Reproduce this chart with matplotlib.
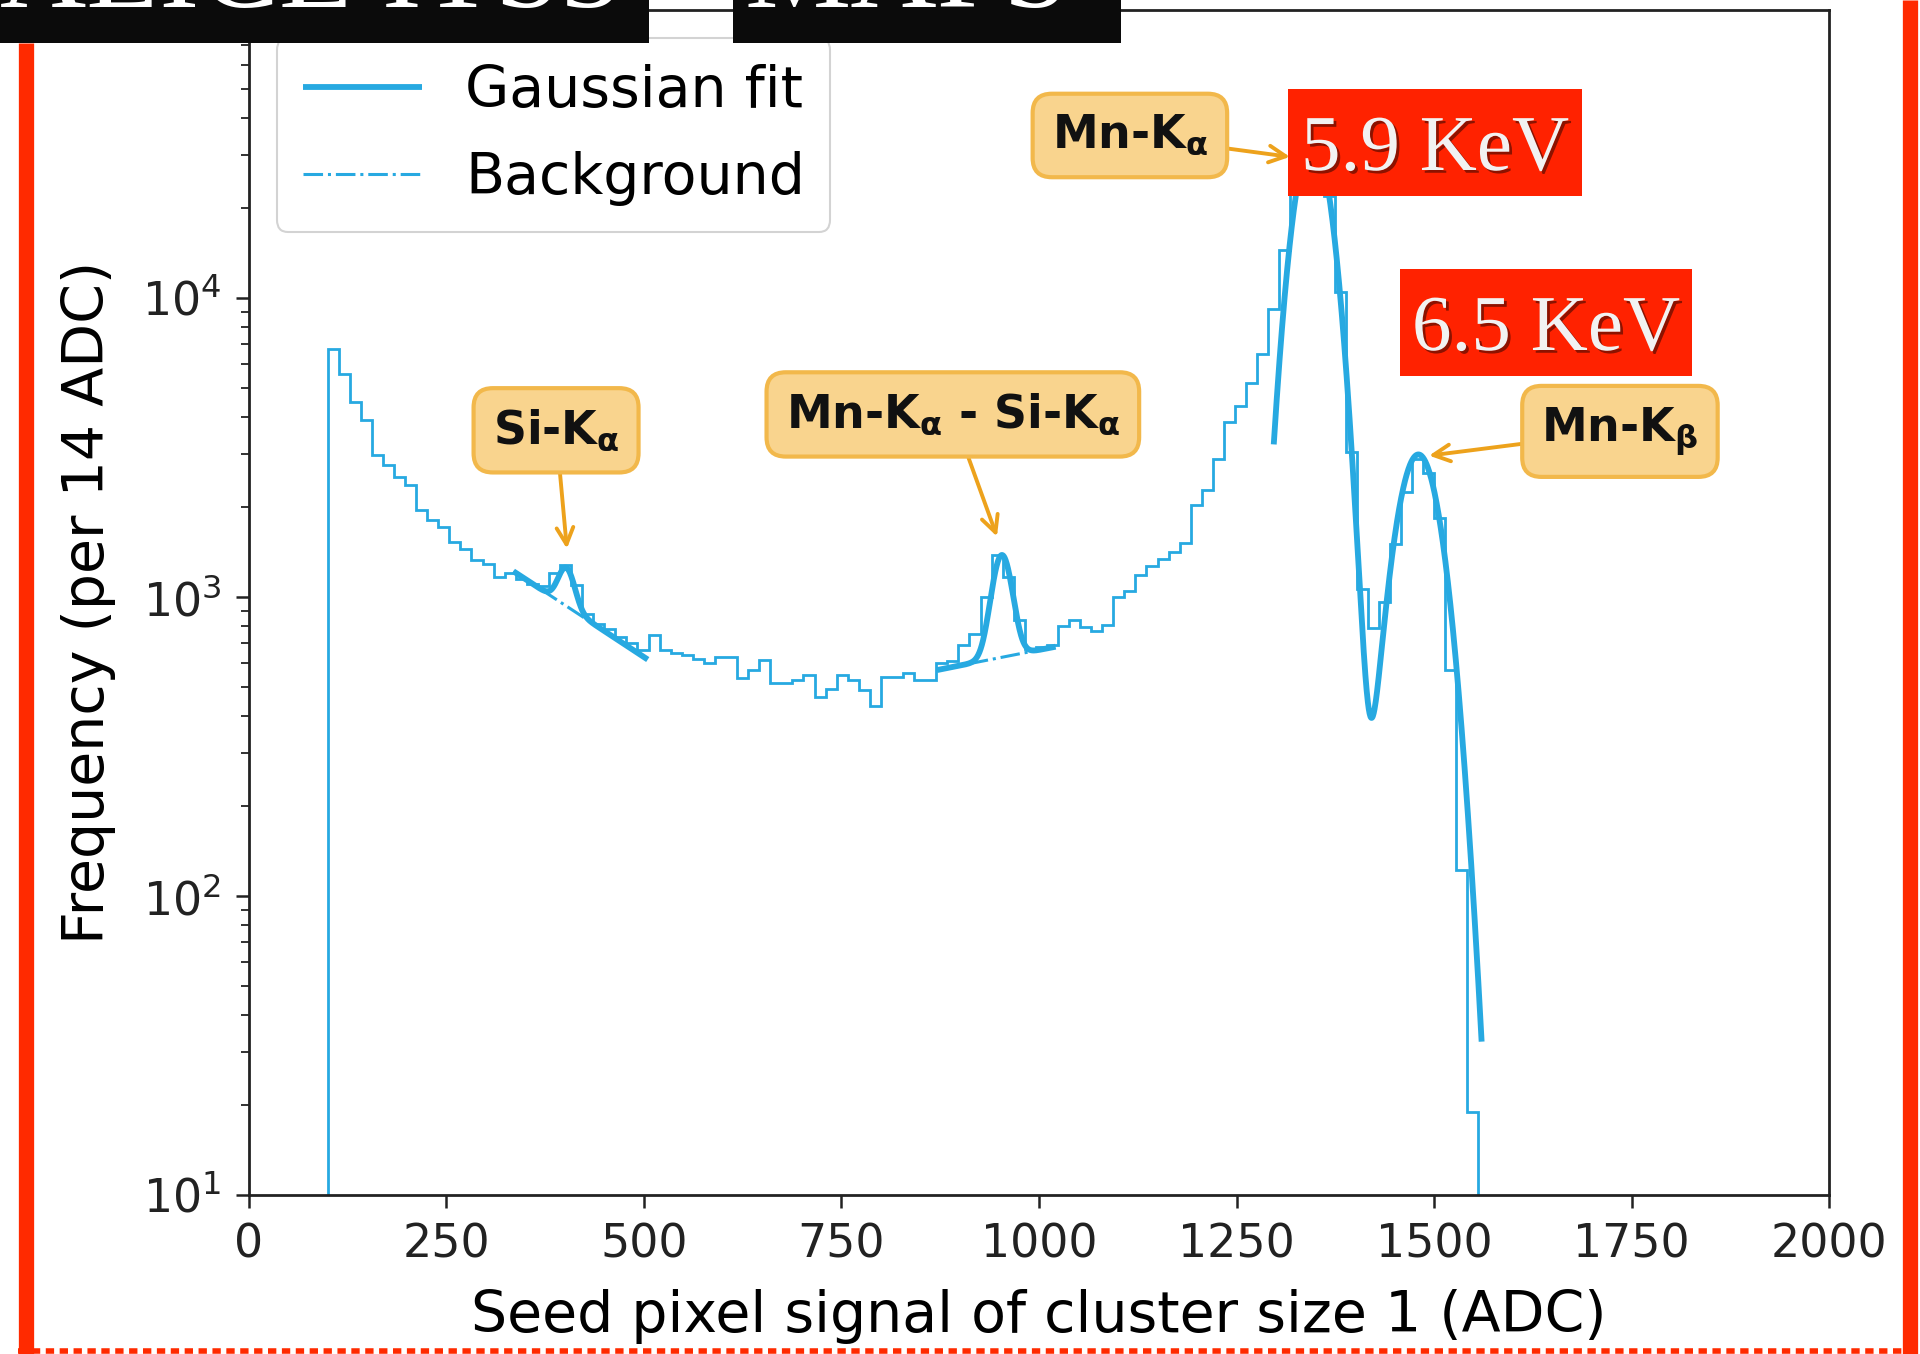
import numpy as np
import matplotlib
matplotlib.use("Agg")
import matplotlib.pyplot as plt
from matplotlib.patches import Rectangle
from matplotlib.lines import Line2D
import matplotlib.patheffects as pe

# ---- histogram of seed pixel signal (cluster size 1), 14 ADC bins ----
bin_start = 100
bin_width = 14
counts = [
    6780, 5590, 4490, 3900, 2980, 2760, 2520, 2370, 1950, 1810,
    1715, 1530, 1450, 1330, 1290, 1170, 1200, 1150, 1110, 1090,
    1200, 1280, 1100, 880, 815, 785, 735, 700, 665, 745,
    665, 650, 640, 620, 600, 630, 630, 535, 570, 615,
    515, 515, 527, 548, 464, 494, 548, 527, 488, 432,
    541, 541, 557, 530, 530, 600, 611, 690, 755, 1000,
    1380, 1168, 835, 673, 681, 690, 800, 840, 794, 773,
    805, 1003, 1046, 1184, 1268, 1340, 1415, 1517, 2025, 2288,
    2890, 3860, 4370, 5220, 6500, 9170, 14500, 24000, 33000, 35000,
    22000, 10500, 3055, 1065, 790, 960, 1500, 2240, 2900, 2600,
    1840, 570, 122, 19,
]

# ---- fit results: Gaussian (amplitude, mean, sigma) on exponential background ----
si_range = [335, 505]
si_peak = [320, 402, 10.0]
si_bkg = [1220, -0.0040]          # value at range start, log-slope per ADC

esc_range = [871, 1021]
esc_peak = [754, 953, 12.0]
esc_bkg = [570, 0.0012]

mn_range = [1297, 1560]
mn_ka = [34000, 1346, 22.6]
mn_kb = [3000, 1480, 26.6]

# ---- peak labels ----
ann_labels = [r"Si-K$_{\mathbf{\alpha}}$",
              r"Mn-K$_{\mathbf{\alpha}}$ - Si-K$_{\mathbf{\alpha}}$",
              r"Mn-K$_{\mathbf{\alpha}}$",
              r"Mn-K$_{\mathbf{\beta}}$"]
ann_targets = [(403, 1422), (948, 1563), (1321, 29600), (1490, 2965)]
ann_text_pos = [(389, 3613), (891, 4083), (1115, 35000), (1735, 3583)]

energy_labels = ["5.9 KeV", "6.5 KeV"]

BLUE = "#27a9e1"
W, H = 1920, 1354


def gauss(x, p):
    a, mu, s = p
    return a * np.exp(-0.5 * ((x - mu) / s) ** 2)


def expo(x, x0, p):
    b0, k = p
    return b0 * np.exp(k * (x - x0))


fig = plt.figure(figsize=(W / 100, H / 100), dpi=100)
fig.patch.set_facecolor("white")

def fx(px):
    return px / W

def fy(py):
    return 1 - py / H

ax = fig.add_axes([fx(248.6), fy(1195), fx(1829.4) - fx(248.6), fy(10) - fy(1195)])

edges = bin_start + bin_width * np.arange(len(counts) + 1)
ax.stairs(counts, edges, baseline=1, color=BLUE, lw=2.0)

# Si-K alpha fit
x = np.linspace(si_range[0], si_range[1], 300)
bk = expo(x, si_range[0], si_bkg)
ax.plot(x, bk + gauss(x, si_peak), color=BLUE, lw=4.2, label="Gaussian fit",
        solid_capstyle="butt")
ax.plot(x, bk, color=BLUE, lw=2.2, ls="-.", label="Background")

# escape peak fit
x = np.linspace(esc_range[0], esc_range[1], 300)
bk = expo(x, esc_range[0], esc_bkg)
ax.plot(x, bk + gauss(x, esc_peak), color=BLUE, lw=4.2, solid_capstyle="butt")
ax.plot(x, bk, color=BLUE, lw=2.2, ls="-.")

# Mn K alpha + K beta fit
x = np.linspace(mn_range[0], mn_range[1], 500)
ax.plot(x, gauss(x, mn_ka) + gauss(x, mn_kb), color=BLUE, lw=4.2,
        solid_capstyle="butt")

ax.set_yscale("log")
ax.set_xlim(0, 2000)
ax.set_ylim(10, 9.2e4)
ax.set_xticks(np.arange(0, 2001, 250))

for s in ax.spines.values():
    s.set_linewidth(2.0)
    s.set_color("#222222")
ax.tick_params(axis="both", which="major", labelsize=33, length=9.5, width=1.8,
               pad=10, colors="#222222")
ax.tick_params(axis="y", which="minor", length=5.5, width=1.3, colors="#222222")

ax.set_xlabel("Seed pixel signal of cluster size 1 (ADC)", fontsize=41)
ax.set_ylabel("Frequency (per 14 ADC)", fontsize=41)
ax.xaxis.set_label_coords(0.5, -0.079)
ax.yaxis.set_label_coords(-0.084, 0.5)

leg = ax.legend(loc="upper left", fontsize=41, frameon=True, fancybox=True,
                edgecolor="#cccccc", framealpha=0.85, labelspacing=0.56,
                borderpad=0.45, handlelength=2.1, handletextpad=0.75)
leg.get_frame().set_linewidth(1.5)

for lab, xy, txy in zip(ann_labels, ann_targets, ann_text_pos):
    ax.annotate(lab, xy=xy, xytext=txy, textcoords="data",
                ha="center", va="center", fontsize=33, fontweight="bold",
                color="#111111",
                bbox=dict(boxstyle="round,pad=0.42", fc="#f9d48e", ec="#f2b84b",
                          lw=3),
                arrowprops=dict(arrowstyle="->", color="#eda21c", lw=2.8,
                                shrinkA=0, shrinkB=2, mutation_scale=30))

# energy tags
tag_boxes = [(1288, 89, 1582, 196), (1400, 269, 1692, 376)]
tag_baselines = [170, 350]
for lab, (x0, y0, x1, y1), yb in zip(energy_labels, tag_boxes, tag_baselines):
    fig.add_artist(Rectangle((fx(x0), fy(y1)), fx(x1) - fx(x0), fy(y0) - fy(y1),
                             transform=fig.transFigure, fc="#ff2200", ec="none",
                             zorder=10))
    fig.text(fx((x0 + x1) / 2), fy(yb), lab, ha="center", va="baseline",
             fontsize=57, family="Liberation Serif", color="#f2f2f2", zorder=11,
             path_effects=[pe.SimplePatchShadow(offset=(2, -2),
                                                shadow_rgbFace="black",
                                                alpha=0.45),
                           pe.Normal()])

# title bars along the top edge
for (x0, x1) in [(0, 649), (733, 1121)]:
    fig.add_artist(Rectangle((fx(x0), fy(43)), fx(x1) - fx(x0), fy(0) - fy(43),
                             transform=fig.transFigure, fc="#0b0b0b", ec="none",
                             zorder=10))
fig.text(fx(0), fy(7), "ALICE ITS3", ha="left", va="baseline", fontsize=86,
         family="Liberation Serif", color="white", zorder=11)
fig.text(fx(745), fy(7), "MAPS", ha="left", va="baseline", fontsize=86,
         family="Liberation Serif", color="white", zorder=11)

# red frame
RED = "#ff2a00"
fig.add_artist(Line2D([fx(26), fx(26)], [fy(43), fy(H)], transform=fig.transFigure,
                      color=RED, lw=11, zorder=12, solid_capstyle="butt"))
fig.add_artist(Line2D([fx(1910), fx(1910)], [fy(0), fy(H)], transform=fig.transFigure,
                      color=RED, lw=11, zorder=12, solid_capstyle="butt"))
fig.add_artist(Line2D([fx(18), fx(1918)], [fy(1351), fy(1351)], transform=fig.transFigure,
                      color=RED, lw=4, zorder=12, ls=(0, (1.5, 1)), solid_capstyle="butt"))

fig.savefig("out.png", dpi=100)
